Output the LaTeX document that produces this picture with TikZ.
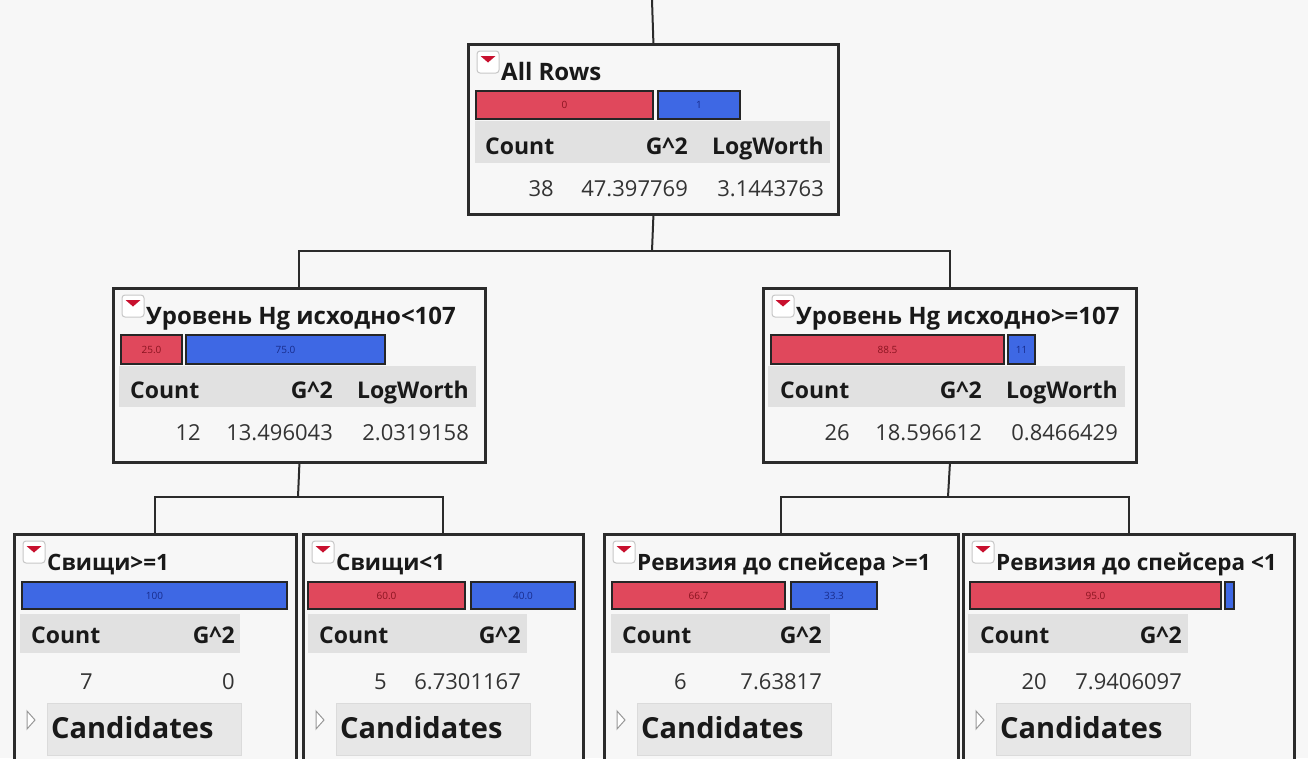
\documentclass[tikz,border=0pt]{standalone}
\usepackage{fontspec}
\setmainfont{Open Sans}
\definecolor{bgc}{HTML}{F7F7F7}
\definecolor{boxc}{HTML}{2B2B2B}
\definecolor{hdrc}{HTML}{E1E1E1}
\definecolor{redc}{HTML}{E0485C}
\definecolor{bluec}{HTML}{3E68E4}
\definecolor{redt}{HTML}{8A1420}
\definecolor{bluet}{HTML}{182C8C}
\definecolor{iconc}{HTML}{C8102E}
\newcommand\myfs[1]{\fontsize{#1}{#1}\selectfont}
\tikzset{
  tbox/.style={draw=boxc, line width=2.8pt, fill=bgc, anchor=north west, inner sep=0pt},
  link/.style={draw=boxc, line width=2pt},
  hdr/.style={fill=hdrc},
  rbar/.style={fill=redc, draw=black!85, line width=1.6pt},
  bbar/.style={fill=bluec, draw=black!85, line width=1.6pt},
  rlbl/.style={text=redt, font=\myfs{10}, inner sep=0pt},
  blbl/.style={text=bluet, font=\myfs{10}, inner sep=0pt},
  ttl/.style={anchor=base west, inner sep=0pt, font=\bfseries\myfs{24}, text=black!90},
  ttls/.style={anchor=base west, inner sep=0pt, font=\bfseries\myfs{22.5}, text=black!90},
  hd/.style={anchor=base west, inner sep=0pt, font=\bfseries\myfs{23}, text=black!90},
  hde/.style={anchor=base east, inner sep=0pt, font=\bfseries\myfs{23}, text=black!90},
  val/.style={anchor=base east, inner sep=0pt, font=\myfs{22}, text=black!80},
  cand/.style={anchor=base west, inner sep=0pt, font=\bfseries\myfs{29}, text=black!90},
  candbox/.style={fill=hdrc!80, draw=hdrc!60!black!30},
}
\newcommand\icon{%
  \draw[fill=white, draw=black!22, line width=1pt, rounded corners=3pt] (10,8) rectangle (32,30);
  \fill[iconc] (13.5,13) -- (28.5,13) -- (21,19.5) -- cycle;}
\newcommand\cands{%
  \draw[draw=black!40, line width=1pt, fill=white] (14,178) -- (22,187) -- (14,196) -- cycle;
  \path[candbox] (34,170) rectangle (228,222);
  \node[cand] at (38,205) {Candidates};}
\begin{document}
\begin{tikzpicture}[x=1pt, y=-1pt]
\useasboundingbox (0,0) rectangle (1308,758);
\clip (0,0) rectangle (1308,758);
\fill[bgc] (0,0) rectangle (1308,758);

% boxes
\node[tbox, minimum width=370pt, minimum height=170pt] (n0) at (467,43) {};
\node[tbox, minimum width=372pt, minimum height=174pt] (n1) at (112,287) {};
\node[tbox, minimum width=373pt, minimum height=174pt] (n2) at (762,287) {};
\node[tbox, minimum width=282pt, minimum height=240pt] (n3) at (13,533) {};
\node[tbox, minimum width=280pt, minimum height=240pt] (n4) at (302,533) {};
\node[tbox, minimum width=354pt, minimum height=240pt] (n5) at (603,533) {};
\node[tbox, minimum width=331pt, minimum height=240pt] (n6) at (962,533) {};

% connectors
\coordinate (rootin) at (652,0);
\coordinate (j0) at (652,251);
\coordinate (j1) at (298,497);
\coordinate (j2) at (948,497);
\draw[link] (rootin) -- (n0.north);
\draw[link] (n0.south) -- (j0);
\draw[link] (j0) -| (n1.north);
\draw[link] (j0) -| (n2.north);
\draw[link] (n1.south) -- (j1);
\draw[link] (j1) -| (n3.north);
\draw[link] (j1) -| (n4.north);
\draw[link] (n2.south) -- (j2);
\draw[link] (j2) -| (n5.north);
\draw[link] (j2) -| (n6.north);

% root
\begin{scope}[shift={(467,43)}]
  \icon
  \node[ttl] (t0) at (34,37) {All Rows};
  \path[hdr] (8,78) rectangle (363,120);
  \draw[rbar] (9,48) rectangle (186,76);
  \node[rlbl] at (97.5,62) {0};
  \draw[bbar] (191,48) rectangle (273,76);
  \node[blbl] at (232,62) {1};
  \node[hd] at (18,111) {Count};
  \node[hde] at (221,111) {G\^{}2};
  \node[hde] at (357,111) {LogWorth};
  \node[val] at (87,153) {38};
  \node[val] at (221,153) {47.397769};
  \node[val] at (357,153) {3.1443763};
\end{scope}

% left middle
\begin{scope}[shift={(112,287)}]
  \icon
  \node[ttl] (t1) at (34,37) {Уровень Hg исходно<107};
  \path[hdr] (7,79) rectangle (364,120);
  \draw[rbar] (9,48) rectangle (70,77);
  \node[rlbl] at (39.5,62.5) {25.0};
  \draw[bbar] (74,48) rectangle (273,77);
  \node[blbl] at (173.5,62.5) {75.0};
  \node[hd] at (18,111) {Count};
  \node[hde] at (221,111) {G\^{}2};
  \node[hde] at (357,111) {LogWorth};
  \node[val] at (89,153) {12};
  \node[val] at (221,153) {13.496043};
  \node[val] at (357,153) {2.0319158};
\end{scope}

% right middle
\begin{scope}[shift={(762,287)}]
  \icon
  \node[ttl] (t2) at (34,37) {Уровень Hg исходно>=107};
  \path[hdr] (6,79) rectangle (363,120);
  \draw[rbar] (9,48) rectangle (242,77);
  \node[rlbl] at (125.5,62.5) {88.5};
  \draw[bbar] (246,48) rectangle (273,77);
  \node[blbl] at (259.5,62.5) {11};
  \node[hd] at (18,111) {Count};
  \node[hde] at (220,111) {G\^{}2};
  \node[hde] at (356,111) {LogWorth};
  \node[val] at (88,153) {26};
  \node[val] at (220,153) {18.596612};
  \node[val] at (356,153) {0.8466429};
\end{scope}

% leaf 1
\begin{scope}[shift={(13,533)}]
  \icon
  \node[ttls] (t3) at (34,37) {Свищи>=1};
  \path[hdr] (7,81) rectangle (227,120);
  \draw[bbar] (9,49) rectangle (274,76);
  \node[blbl] at (141.5,62.5) {100};
  \node[hd] at (18,110) {Count};
  \node[hde] at (222,110) {G\^{}2};
  \node[val] at (80,156) {7};
  \node[val] at (222,156) {0};
  \cands
\end{scope}

% leaf 2
\begin{scope}[shift={(302,533)}]
  \icon
  \node[ttls] (t4) at (34,37) {Свищи<1};
  \path[hdr] (6,81) rectangle (225,120);
  \draw[rbar] (6,49) rectangle (163,76);
  \node[rlbl] at (84.5,62.5) {60.0};
  \draw[bbar] (169,49) rectangle (273,76);
  \node[blbl] at (221,62.5) {40.0};
  \node[hd] at (17,110) {Count};
  \node[hde] at (219,110) {G\^{}2};
  \node[val] at (85,156) {5};
  \node[val] at (219,156) {6.7301167};
  \cands
\end{scope}

% leaf 3
\begin{scope}[shift={(603,533)}]
  \icon
  \node[ttls] (t5) at (34,37) {Ревизия до спейсера >=1};
  \path[hdr] (8,81) rectangle (227,120);
  \draw[rbar] (9,49) rectangle (182,76);
  \node[rlbl] at (95.5,62.5) {66.7};
  \draw[bbar] (188,49) rectangle (274,76);
  \node[blbl] at (231,62.5) {33.3};
  \node[hd] at (19,110) {Count};
  \node[hde] at (219,110) {G\^{}2};
  \node[val] at (84,156) {6};
  \node[val] at (219,156) {7.63817};
  \cands
\end{scope}

% leaf 4
\begin{scope}[shift={(962,533)}]
  \icon
  \node[ttls] (t6) at (34,37) {Ревизия до спейсера <1};
  \path[hdr] (6,81) rectangle (226,120);
  \draw[rbar] (8,49) rectangle (259,76);
  \node[rlbl] at (133.5,62.5) {95.0};
  \draw[bbar] (263,49) rectangle (272,76);
  \node[hd] at (18,110) {Count};
  \node[hde] at (220,110) {G\^{}2};
  \node[val] at (85,156) {20};
  \node[val] at (220,156) {7.9406097};
  \cands
\end{scope}
\end{tikzpicture}
\end{document}
